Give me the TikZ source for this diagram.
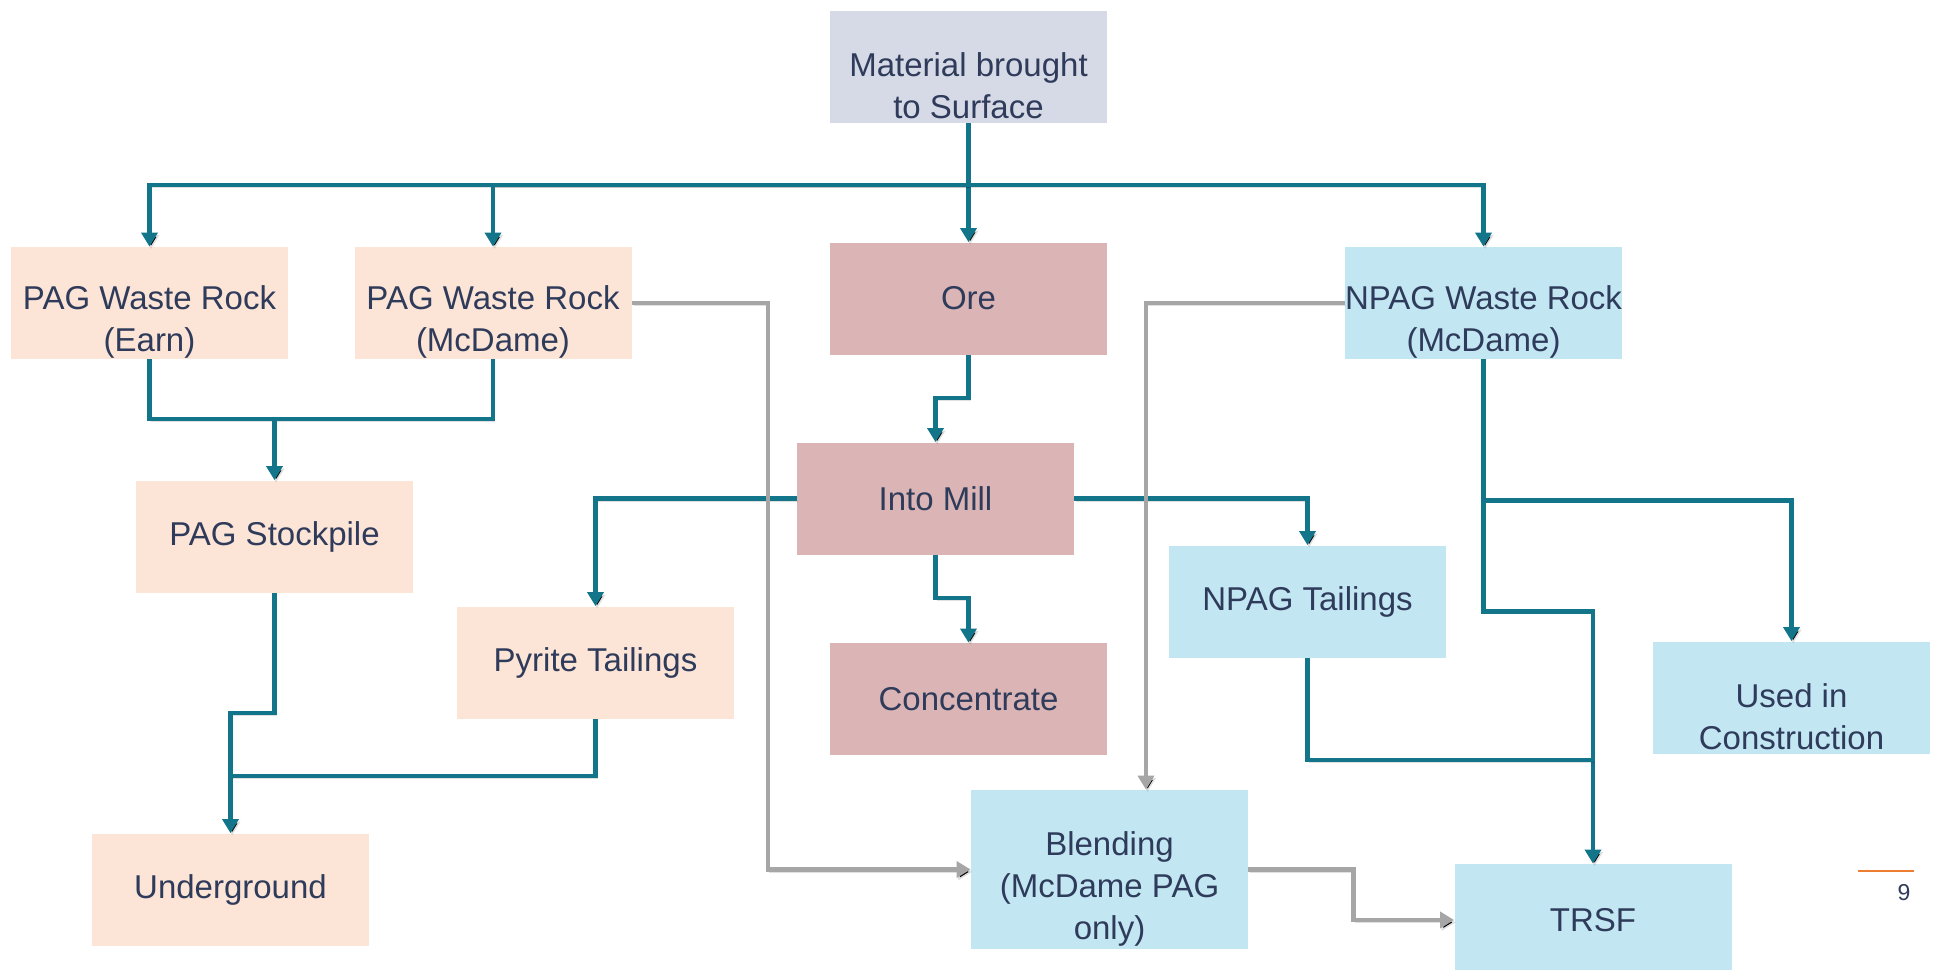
\documentclass[tikz,border=0pt]{standalone}
\usepackage{fontspec}
\setmainfont{Liberation Sans}
\usetikzlibrary{arrows.meta,calc}
\definecolor{peach}{HTML}{FCE4D6}
\definecolor{rose}{HTML}{DBB5B5}
\definecolor{sky}{HTML}{C2E6F2}
\definecolor{lav}{HTML}{D6DAE6}
\definecolor{tealc}{HTML}{13758A}
\definecolor{grayc}{HTML}{A6A6A6}
\definecolor{txtc}{HTML}{2F3B5A}
\definecolor{orangec}{HTML}{ED7D31}
\newcommand\fsz{\fontsize{16.5}{21}\selectfont}
\tikzset{
  bx/.style={draw=none, inner sep=0pt, minimum width=138.5pt, minimum height=56pt,
             text=txtc, font=\fsz, align=center},
  ml/.style={label={[font=\fsz, text=txtc, align=center, yshift=-9.5pt]center:{#1}}},
  shd/.style={preaction={draw=black, draw opacity=0.12, transform canvas={shift={(0.8pt,-1.2pt)}}}},
  tl/.style={draw=tealc, line width=2.1pt, shd},
  gl/.style={draw=grayc, line width=2.1pt, shd},
  arr/.style={-{Triangle[length=7pt,width=8pt]}}
}
\begin{document}
\begin{tikzpicture}[x=0.5pt,y=-0.5pt]
\useasboundingbox[fill=white] (0,0) rectangle (1937,969);
% boxes
\node[bx, fill=lav, ml={Material brought\\to Surface}] (mat) at (968.5,67) {};
\node[bx, fill=peach, ml={PAG Waste Rock\\(Earn)}] (earn) at (149.5,303) {};
\node[bx, fill=peach, ml={PAG Waste Rock\\(McDame)}] (pagm) at (493,303) {};
\node[bx, fill=rose] (ore) at (968.5,298.5) {Ore};
\node[bx, fill=sky, ml={NPAG Waste Rock\\(McDame)}] (npag) at (1483.5,303) {};
\node[bx, fill=peach] (stock) at (274.5,536.5) {PAG Stockpile};
\node[bx, fill=rose] (mill) at (935.5,498.5) {Into Mill};
\node[bx, fill=sky] (npt) at (1307.5,601.5) {NPAG Tailings};
\node[bx, fill=peach] (pyr) at (595.5,662.5) {Pyrite Tailings};
\node[bx, fill=rose] (conc) at (968.5,699) {Concentrate};
\node[bx, fill=sky, ml={Used in\\Construction}] (used) at (1791.5,697.5) {};
\node[bx, fill=peach] (under) at (230.5,889.5) {Underground};
\node[bx, fill=sky, minimum height=79.5pt, ml={Blending\\(McDame PAG\\only)}] (blend) at (1109.5,869.5) {};
\node[bx, fill=sky] (trsf) at (1593,920) {TRSF};
% teal connectors
\draw[tl,arr] (mat.south) -- (ore.north);
\coordinate (bus) at (968.5,185);
\draw[tl,arr] (bus) -| (earn.north);
\draw[tl,arr] (bus) -| (pagm.north);
\draw[tl,arr] (bus) -| (npag.north);
\coordinate (j1) at (274.5,419);
\draw[tl] (earn.south) |- (j1) -| (pagm.south);
\draw[tl,arr] (j1) -- (stock.north);
\coordinate (j2) at (230.5,713);
\draw[tl,arr] (stock.south) |- (j2) -- (under.north);
\coordinate (j3) at (230.5,776);
\draw[tl] (pyr.south) |- (j3);
\draw[tl,arr] (ore.south) -- ++(0,43) -| (mill.north);
\draw[tl,arr] (mill.south) -- ++(0,43) -| (conc.north);
\draw[tl,arr] (mill.west) -| (pyr.north);
\draw[tl,arr] (mill.east) -| (npt.north);
\draw[tl,arr] (npag.south) -- ++(0,141) -| (used.north);
\draw[tl,arr] (npag.south) -- ++(0,252) -| (trsf.north);
\draw[tl] (npt.south) |- ($(trsf.north)+(0,-104)$);
% gray connectors
\draw[gl,arr] (pagm.east) -- ++(136,0) |- (blend.west);
\draw[gl,arr] (npag.west) -| ($(blend.north)+(36.5,0)$);
\draw[gl,arr] (blend.east) -- ++(105,0) |- (trsf.west);
% page number
\draw[orangec, line width=1.2pt] (1858,871) -- (1914,871);
\node[text=txtc, font=\fontsize{11.5}{14}\selectfont] (pg) at (1904,893) {9};
\end{tikzpicture}
\end{document}
